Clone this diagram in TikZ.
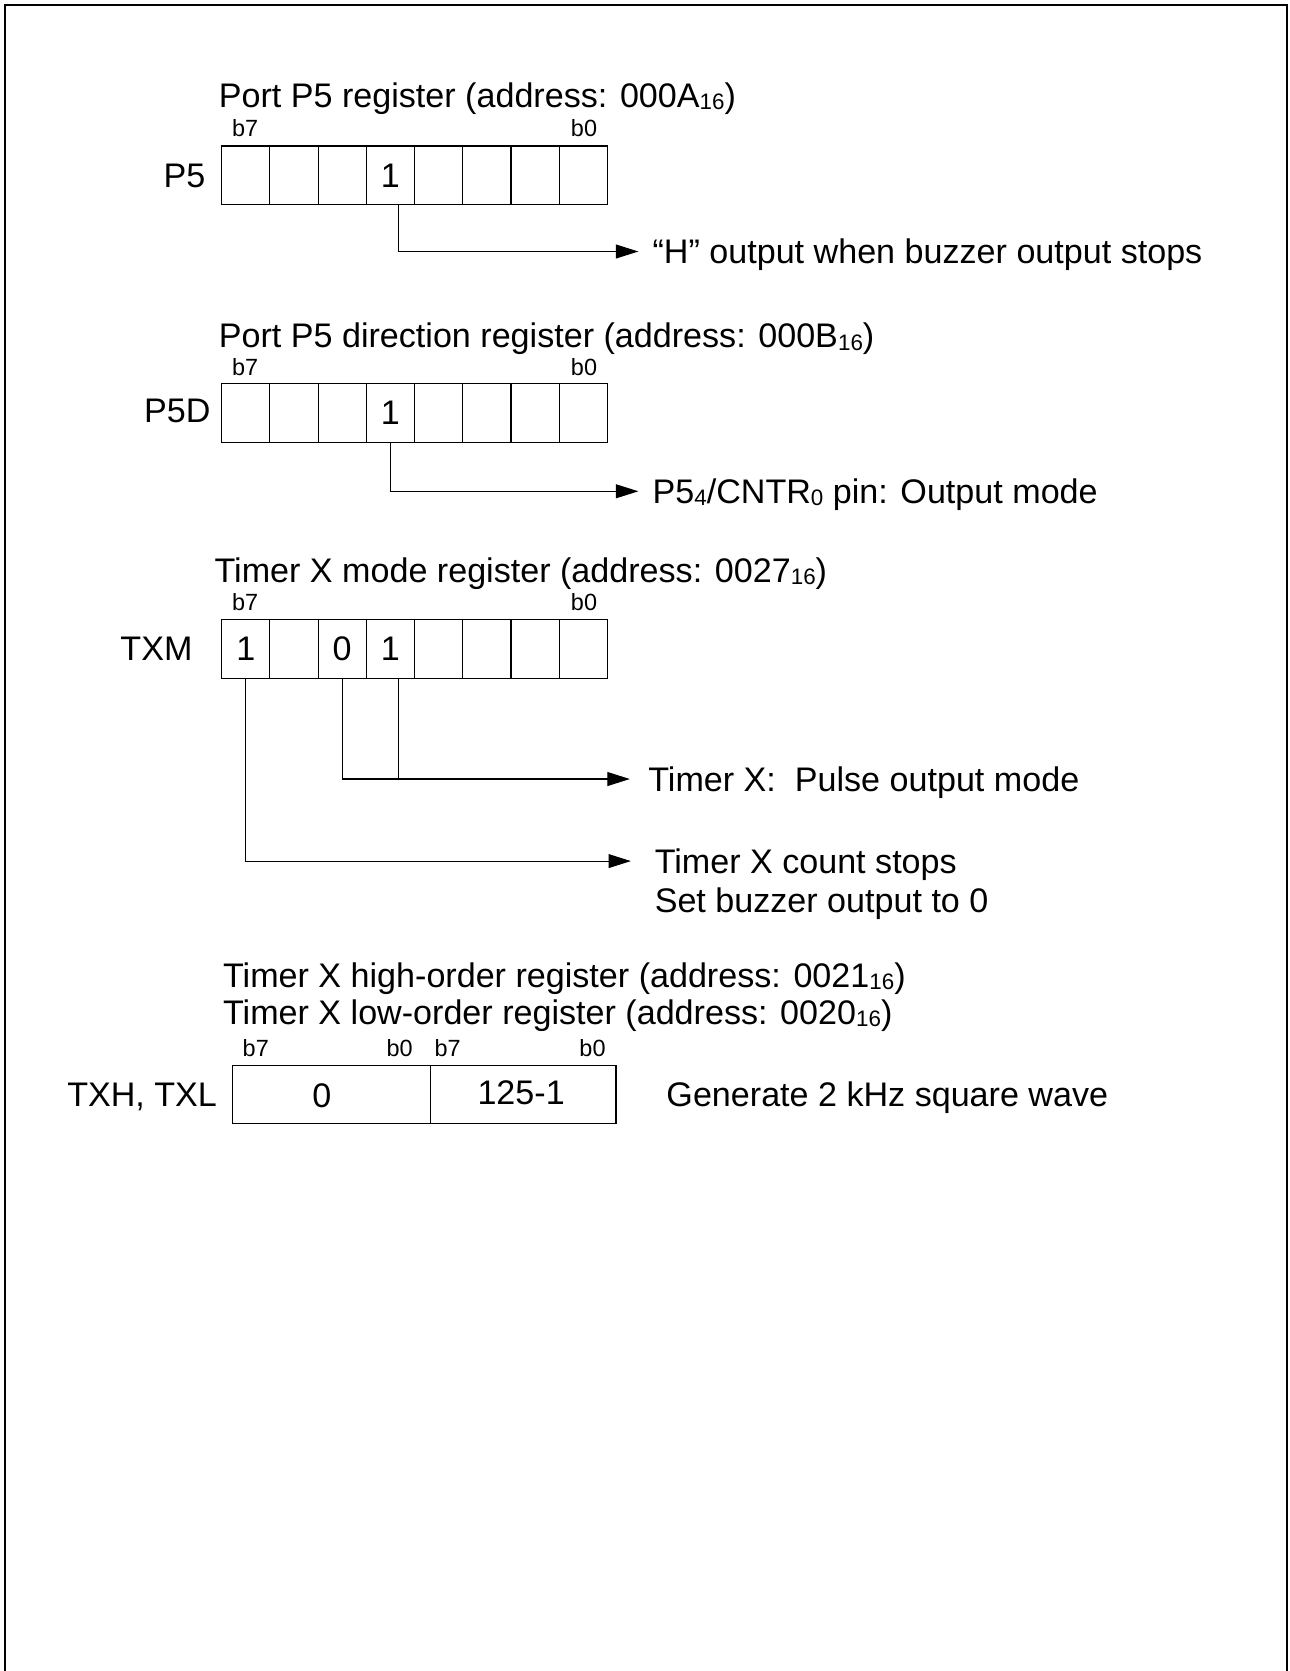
\documentclass[tikz,border=0pt]{standalone}
\usepackage{fontspec}
\setmainfont{Liberation Sans}
\usetikzlibrary{arrows.meta,positioning}
\newcommand{\hex}[1]{\raisebox{-1pt}{\fontsize{10.5}{12}\selectfont#1}}
\tikzset{
  >={Triangle[length=10.5pt,width=6.5pt]},
  frame/.style={line width=1pt},
  cell/.style={draw,line width=0.5pt,minimum width=22.625pt,minimum height=27.5pt,
               inner sep=0pt,font=\fontsize{16}{19}\selectfont},
  wcell/.style={cell,minimum width=#1,minimum height=27pt},
  bit/.style={inner sep=0pt,font=\fontsize{16}{19}\selectfont},
  txt/.style={inner sep=0pt,anchor=base west,font=\fontsize{16}{19}\selectfont},
  regname/.style={inner sep=0pt,anchor=base east,font=\fontsize{16}{19}\selectfont},
  bno/.style={inner sep=0pt,anchor=base,font=\fontsize{11}{13}\selectfont},
  sig/.style={->,line width=0.5pt},
  wire/.style={line width=0.5pt},
}
\begin{document}
\begin{tikzpicture}[x=0.5pt,y=-0.5pt]
\useasboundingbox (0,0) rectangle (1210,1568);
\draw[frame] (5,1568) -- (5,5) -- (1208,5) -- (1208,1568);

% port P5
\node[txt] (p5-title) at (205,101) {Port P5 register (address: 000A\hex{16})};
\node[bno] (p5-b7) at (230,128) {b7};
\node[bno] (p5-b0) at (548,128) {b0};
\foreach \b in {7,...,0}
  \node[cell] (p5b\b) at ({230.6+45.25*(7-\b)},164.5) {};
\node[regname] (p5-name) at (193,176) {P5};
\node[bit] (p5v4) at (p5b4) {1};
\coordinate (p5-tip) at (599,236);
\draw[sig] ([xshift=4pt]p5b4.south) |- (p5-tip);
\node[txt] (p5-note) at (612,247.5) {“H” output when buzzer output stops};

% port P5 direction
\node[txt] (p5d-title) at (205,326.5) {Port P5 direction register (address: 000B\hex{16})};
\node[bno] (p5d-b7) at (230,352) {b7};
\node[bno] (p5d-b0) at (548,352) {b0};
\foreach \b in {7,...,0}
  \node[cell] (p5db\b) at ({230.6+45.25*(7-\b)},387.5) {};
\node[regname] (p5d-name) at (198,396.5) {P5D};
\node[bit] (p5dv4) at (p5db4) {1};
\coordinate (p5d-tip) at (599,461);
\draw[sig] (p5db4.south) |- (p5d-tip);
\node[txt] (p5d-note) at (612,472.5) {P5\hex{4}/CNTR\hex{0} pin: Output mode};

% timer X mode
\node[txt] (txm-title) at (201,546.5) {Timer X mode register (address: 0027\hex{16})};
\node[bno] (txm-b7) at (230,573) {b7};
\node[bno] (txm-b0) at (548,573) {b0};
\foreach \b in {7,...,0}
  \node[cell] (txmb\b) at ({230.6+45.25*(7-\b)},609) {};
\node[regname] (txm-name) at (181,619.5) {TXM};
\node[bit] (txmv7) at (txmb7) {1};
\node[bit] (txmv5) at (txmb5) {0};
\node[bit] (txmv4) at (txmb4) {1};
\coordinate (txm-tip1) at (591,731);
\coordinate (txm-tip2) at (592,808);
\draw[sig] (txmb5.south) |- (txm-tip1);
\draw[wire] ([xshift=4pt]txmb4.south) -- ([xshift=4pt]txmb4.south |- txm-tip1);
\draw[sig] (txmb7.south) |- (txm-tip2);
\node[txt] (txm-note1) at (608,742.5) {Timer X:\ \ Pulse output mode};
\node[txt] (txm-note2) at (614,819.5) {Timer X count stops};
\node[txt] (txm-note3) at (614,856.5) {Set buzzer output to 0};

% timer X high/low
\node[txt] (tx-title1) at (209,926.5) {Timer X high-order register (address: 0021\hex{16})};
\node[txt] (tx-title2) at (209,961.5) {Timer X low-order register (address: 0020\hex{16})};
\node[bno] (txh-b7) at (240,991) {b7};
\node[bno] (txh-b0) at (375,991) {b0};
\node[bno] (txl-b7) at (420,991) {b7};
\node[bno] (txl-b0) at (556,991) {b0};
\node[wcell=93pt] (txh) at (311,1027) {};
\node[wcell=87pt] (txl) at (491,1027) {};
\node[bit] (txh-v) at (302,1028) {0};
\node[bit] (txl-v) at (489,1025) {125-1};
\node[regname] (tx-name) at (204,1038.5) {TXH, TXL};
\node[txt] (tx-note) at (625,1038.5) {Generate 2 kHz square wave};
\end{tikzpicture}
\end{document}
